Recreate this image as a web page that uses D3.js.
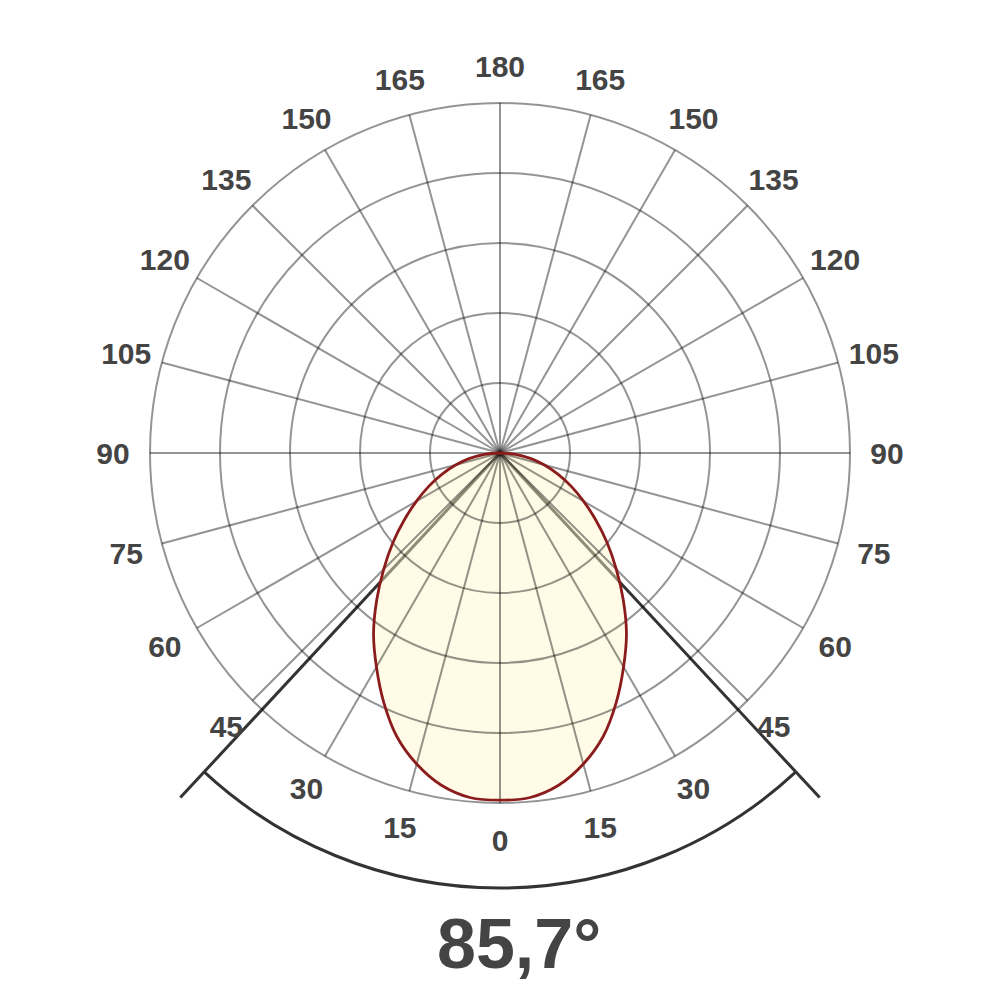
<!DOCTYPE html>
<html><head><meta charset="utf-8">
<script src="https://cdn.jsdelivr.net/npm/d3@7"></script>
<style>html,body{margin:0;padding:0;background:#fff;}</style>
</head><body>
<svg id="chart" width="1000" height="1000"></svg>
<script>
// Polar luminous intensity (one half, symmetric), gamma angle in degrees
const gammaAngles = [0,5,10,15,20,25,30,35,40,45,50,55,60,65,70,75,80,85,90];
const intensity   = [496,494,482,460,431,393,353,315,274,235,200,167,138,112,88,65,44,22,0];
const ringValues  = [100,200,300,400,500];
const angleTicks  = [0,15,30,45,60,75,90,105,120,135,150,165,180];
const beamAngle   = 85.7;
const beamLabel   = "85,7°";

const svg = d3.select("#chart");
const cx = 500, cy = 453, R = 350;
const r = d3.scaleLinear().domain([0, 500]).range([0, R]);
const toRad = d => d * Math.PI / 180;
const g = svg.append("g").attr("transform", `translate(${cx},${cy})`);

// beam lines + arc (under the fill)
const half = beamAngle / 2;
const beamG = g.append("g");
[-1, 1].forEach(s => {
  const a = toRad(180 - s * half);
  beamG.append("line")
    .attr("x1", 0).attr("y1", 0)
    .attr("x2", 470 * Math.sin(a)).attr("y2", -470 * Math.cos(a))
    .attr("stroke", "#333").attr("stroke-width", 3);
});
beamG.append("path")
  .attr("d", d3.arc()({innerRadius: 435, outerRadius: 435, startAngle: toRad(180 - half), endAngle: toRad(180 + half)}))
  .attr("fill", "none").attr("stroke", "#333").attr("stroke-width", 3);

// curve data, full symmetric
const pts = [];
for (let i = gammaAngles.length - 1; i >= 0; i--) pts.push([toRad(180 + gammaAngles[i]), r(intensity[i])]);
for (let i = 1; i < gammaAngles.length; i++) pts.push([toRad(180 - gammaAngles[i]), r(intensity[i])]);
const line = d3.lineRadial().angle(d => d[0]).radius(d => d[1]).curve(d3.curveCatmullRomClosed);

g.append("path").attr("d", line(pts))
  .attr("fill", "rgb(255,246,199)").attr("fill-opacity", 0.45).attr("stroke", "none");

// grid
const grid = g.append("g").attr("stroke", "#000").attr("stroke-opacity", 0.42).attr("stroke-width", 2).attr("fill", "none");
ringValues.forEach(v => grid.append("circle").attr("r", r(v)));
d3.range(0, 360, 15).forEach(d => {
  const a = toRad(d);
  grid.append("line").attr("x1", 0).attr("y1", 0)
    .attr("x2", R * Math.sin(a)).attr("y2", -R * Math.cos(a));
});

// curve outline
g.append("path").attr("d", line(pts))
  .attr("fill", "none").attr("stroke", "#8a1c1c").attr("stroke-width", 2.8);

// angle labels
const lab = g.append("g").attr("font-family", "'Liberation Sans', Arial, sans-serif")
  .attr("font-weight", "bold").attr("font-size", 30).attr("fill", "#444").attr("text-anchor", "middle");
angleTicks.forEach(t => {
  const sides = (t === 0 || t === 180) ? [1] : [-1, 1];
  sides.forEach(s => {
    const a = toRad(180 - s * t);
    lab.append("text")
      .attr("x", 387 * Math.sin(a)).attr("y", -387 * Math.cos(a)).attr("dy", "0.36em")
      .text(t);
  });
});

svg.append("text").attr("x", 437).attr("y", 968)
  .attr("font-family", "'Liberation Sans', Arial, sans-serif").attr("font-weight", "bold")
  .attr("font-size", 70).attr("fill", "#444").text(beamLabel);
</script>
</body></html>
